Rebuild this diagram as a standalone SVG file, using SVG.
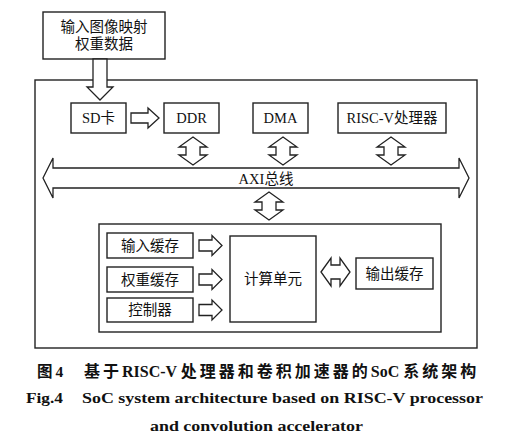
<svg xmlns="http://www.w3.org/2000/svg" width="514" height="441" viewBox="0 0 514 441">
<style>
.box{fill:#fff;stroke:#222;stroke-width:1.4}
.arr{fill:#fff;stroke:#222;stroke-width:1.3;stroke-linejoin:miter}
.t{font-family:"Liberation Serif","Noto Sans CJK SC",serif;font-size:14.5px;fill:#111;text-anchor:middle;dominant-baseline:central}
.cap{font-family:"Liberation Serif","Noto Sans CJK SC",serif;font-weight:bold;font-size:15.5px;fill:#111}
.cn{letter-spacing:3px}
</style>
<rect width="514" height="441" fill="#fff"/>
<g id="input-data"><rect class="box" x="43" y="12" width="122" height="47"/><text class="t" x="104" y="27">输入图像映射</text><text class="t" x="104" y="44">权重数据</text></g>
<g id="soc"><rect class="box" x="35" y="80" width="442" height="268"/></g>
<g id="sd"><rect class="box" x="71" y="103" width="55" height="30"/><text class="t" x="98.5" y="118">SD卡</text></g>
<g id="ddr"><rect class="box" x="164" y="103" width="55" height="30"/><text class="t" x="191.5" y="118">DDR</text></g>
<g id="dma"><rect class="box" x="253" y="103" width="55" height="30"/><text class="t" x="280.5" y="118">DMA</text></g>
<g id="riscv"><rect class="box" x="338" y="103" width="108" height="30"/><text class="t" x="392" y="118">RISC-V处理器</text></g>
<g id="axi"><polygon class="arr" points="43,178 53,158 53,168 459,168 459,158 469,178 459,198 459,188 53,188 53,198"/><text class="t" x="266" y="179">AXI总线</text></g>
<g id="accel"><rect class="box" x="99" y="224" width="342" height="108"/></g>
<g id="inbuf"><rect class="box" x="107" y="233" width="86" height="25"/><text class="t" x="150" y="245.5">输入缓存</text></g>
<g id="wbuf"><rect class="box" x="107" y="267" width="86" height="25"/><text class="t" x="150" y="279.5">权重缓存</text></g>
<g id="ctrl"><rect class="box" x="107" y="298" width="86" height="24"/><text class="t" x="150" y="310">控制器</text></g>
<g id="pe"><rect class="box" x="230" y="236" width="86" height="86"/><text class="t" x="273" y="279">计算单元</text></g>
<g id="outbuf"><rect class="box" x="356" y="258" width="77" height="31"/><text class="t" x="394.5" y="273.5">输出缓存</text></g>
<g id="connectors">
<polygon class="arr" points="93,59 107,59 107,87 113,87 100,100 87,87 93,87"/>
<polygon class="arr" points="131,113 148,113 148,108 159,118 148,128 148,123 131,123"/>
<polygon class="arr" points="193,137 207,147 200,147 200,155 207,155 193,165 179,155 186,155 186,147 179,147"/>
<polygon class="arr" points="283,137 297,147 290,147 290,155 297,155 283,165 269,155 276,155 276,147 269,147"/>
<polygon class="arr" points="391,137 405,147 398,147 398,155 405,155 391,165 377,155 384,155 384,147 377,147"/>
<polygon class="arr" points="269,192 283,202 276,202 276,210 283,210 269,220 255,210 262,210 262,202 255,202"/>
<polygon class="arr" points="199,240 212,240 212,235.5 222,245.5 212,255.5 212,251 199,251"/>
<polygon class="arr" points="199,274 212,274 212,269.5 222,279.5 212,289.5 212,285 199,285"/>
<polygon class="arr" points="199,304.5 212,304.5 212,300 222,310 212,320 212,315.5 199,315.5"/>
<polygon class="arr" points="321,272 331,258 331,265 340,265 340,258 350,272 340,286 340,279 331,279 331,286"/>
</g>
<g id="caption">
<text class="cap" x="37" y="377"><tspan class="cn">图</tspan>4</text>
<text class="cap" x="84" y="377" style="font-size:16px"><tspan class="cn">基于</tspan>RISC-V <tspan class="cn">处理器和卷积加速器的</tspan>SoC <tspan class="cn">系统架构</tspan></text>
<text class="cap" x="26" y="403" textLength="37" lengthAdjust="spacingAndGlyphs">Fig.4</text>
<text class="cap" x="82" y="403" textLength="401" lengthAdjust="spacingAndGlyphs">SoC system architecture based on RISC-V processor</text>
<text class="cap" x="150" y="431" textLength="213" lengthAdjust="spacingAndGlyphs">and convolution accelerator</text>
</g>
</svg>
